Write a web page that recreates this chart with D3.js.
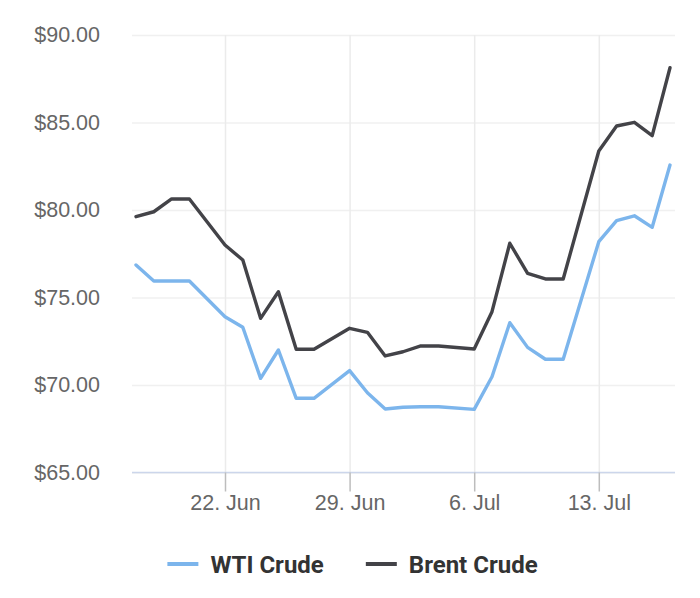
<!DOCTYPE html>
<html>
<head>
<meta charset="utf-8">
<script src="https://cdn.jsdelivr.net/npm/d3@7"></script>
<style>
  body { margin: 0; background: #fff; }
  svg { font-family: Roboto, "Noto Sans", sans-serif; }
</style>
</head>
<body>
<div id="chart"></div>
<script>
// daily quotes, a few days have no value
var dates = ['2022-06-17', '2022-06-18', '2022-06-19', '2022-06-20',
             '2022-06-22', '2022-06-23', '2022-06-24', '2022-06-25', '2022-06-26', '2022-06-27',
             '2022-06-29', '2022-06-30', '2022-07-01', '2022-07-02', '2022-07-03', '2022-07-04',
             '2022-07-06', '2022-07-07', '2022-07-08', '2022-07-09', '2022-07-10', '2022-07-11',
             '2022-07-13', '2022-07-14', '2022-07-15', '2022-07-16', '2022-07-17'];
var wti = [76.86, 75.94, 75.94, 75.94,
           73.90, 73.30, 70.38, 72.00, 69.24, 69.24,
           70.82, 69.56, 68.63, 68.73, 68.76, 68.76,
           68.61, 70.47, 73.56, 72.15, 71.47, 71.47,
           78.19, 79.39, 79.67, 79.01, 82.57];
var brent = [79.62, 79.90, 80.63, 80.63,
             78.00, 77.14, 73.81, 75.33, 72.04, 72.04,
             73.24, 73.01, 71.66, 71.90, 72.23, 72.23,
             72.06, 74.19, 78.10, 76.38, 76.06, 76.06,
             83.37, 84.80, 85.01, 84.25, 88.13];
var seriesNames = ['WTI Crude', 'Brent Crude'];
var seriesColors = ['#7cb5ec', '#434348'];
var xTicks = ['2022-06-22', '2022-06-29', '2022-07-06', '2022-07-13'];
var yTicks = [65, 70, 75, 80, 85, 90];

window.onload = (function () {
    var width = 700, height = 598;
    var parse = d3.utcParse('%Y-%m-%d');
    var left = 132, right = 675, top = 35, bottom = 472.5;

    var svg = d3.select('#chart').append('svg')
        .attr('width', width).attr('height', height);

    var x = d3.scaleUtc()
        .domain([parse(dates[0]), parse(dates[dates.length - 1])])
        .range([136, 670]);
    var y = d3.scaleLinear().domain([65, 90]).range([bottom, top]);

    // horizontal grid
    svg.append('g')
        .attr('transform', 'translate(' + left + ',0)')
        .call(d3.axisLeft(y).tickValues(yTicks).tickSize(-(right - left)).tickFormat(''))
        .call(function (g) {
            g.select('.domain').remove();
            g.selectAll('line').attr('stroke', '#f0f0f0').attr('stroke-width', 1.5);
        });

    // vertical grid
    svg.append('g')
        .attr('transform', 'translate(0,' + bottom + ')')
        .call(d3.axisBottom(x).tickValues(xTicks.map(parse)).tickSize(-(bottom - top)).tickFormat(''))
        .call(function (g) {
            g.select('.domain').remove();
            g.selectAll('line').attr('stroke', '#ebebeb').attr('stroke-width', 1.5);
        });

    // y labels
    svg.append('g')
        .attr('transform', 'translate(' + left + ',0)')
        .call(d3.axisLeft(y).tickValues(yTicks).tickSize(0).tickPadding(32)
            .tickFormat(function (d) { return '$' + d.toFixed(2); }))
        .call(function (g) {
            g.select('.domain').remove();
            g.selectAll('text').attr('fill', '#666').style('font-size', '21.5px');
        });

    // x axis
    svg.append('g')
        .attr('transform', 'translate(0,' + bottom + ')')
        .call(d3.axisBottom(x).tickValues(xTicks.map(parse)).tickSizeInner(19).tickSizeOuter(0)
            .tickPadding(3).tickFormat(d3.utcFormat('%-d. %b')))
        .call(function (g) {
            g.select('.domain').attr('stroke', '#ccd6eb').attr('stroke-width', 1.5)
                .attr('d', 'M' + left + ',0H' + right);
            g.selectAll('line').attr('stroke', '#bdbdbd').attr('stroke-width', 1.5);
            g.selectAll('text').attr('fill', '#666').style('font-size', '21.5px');
        });

    var series = [wti, brent].map(function (vals, i) {
        return {
            name: seriesNames[i],
            color: seriesColors[i],
            points: vals.map(function (v, j) { return [parse(dates[j]), v]; })
        };
    });

    var line = d3.line()
        .x(function (d) { return x(d[0]); })
        .y(function (d) { return y(d[1]); });

    svg.selectAll('path.series').data(series).enter().append('path')
        .attr('class', 'series')
        .attr('fill', 'none')
        .attr('stroke', function (d) { return d.color; })
        .attr('stroke-width', 3.4)
        .attr('stroke-linejoin', 'round')
        .attr('stroke-linecap', 'round')
        .attr('d', function (d) { return line(d.points); });

    // legend
    var legend = svg.append('g');
    var items = legend.selectAll('g').data(series).enter().append('g');
    items.append('line')
        .attr('x1', 0).attr('x2', 31).attr('y1', 0).attr('y2', 0)
        .attr('stroke', function (d) { return d.color; })
        .attr('stroke-width', 4);
    items.append('text')
        .attr('x', 43).attr('y', 8.5)
        .attr('fill', '#333')
        .style('font-size', '24px').style('font-weight', 'bold')
        .text(function (d) { return d.name; });
    var offset = 0;
    items.each(function () {
        var w = d3.select(this).select('text').node().getComputedTextLength();
        d3.select(this).attr('transform', 'translate(' + offset + ',0)');
        offset += 43 + w + 42;
    });
    var total = offset - 42;
    legend.attr('transform', 'translate(' + (352.5 - total / 2) + ',564)');
}());
</script>
</body>
</html>
